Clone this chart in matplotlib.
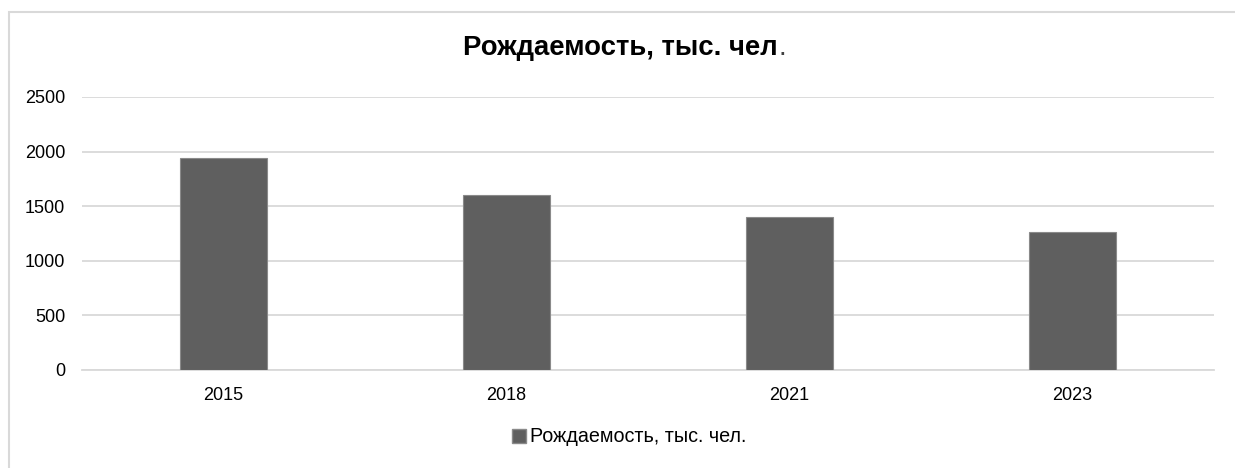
import matplotlib
matplotlib.use("Agg")
import matplotlib.pyplot as plt
from matplotlib.patches import Rectangle, Patch

categories = ["2015", "2018", "2021", "2023"]
births = [1940, 1604, 1398, 1265]
yticks = [0, 500, 1000, 1500, 2000, 2500]
title = "Рождаемость, тыс. чел"
series_name = "Рождаемость, тыс. чел."

plt.rcParams['font.family'] = ['Liberation Sans', 'DejaVu Sans']

W, H = 1235, 468
fig = plt.figure(figsize=(W / 100, H / 100), dpi=100)
fig.patch.set_facecolor("white")

# outer chart border
fig.add_artist(Rectangle((8.5 / W, -0.1), 1.2, (H - 11.5) / H + 0.1,
                         transform=fig.transFigure, fill=False,
                         edgecolor="#d9d9d9", linewidth=1.5))

ax = fig.add_axes([82 / W, (H - 370) / H, (1214 - 82) / W, (370 - 97) / H])
x = range(len(categories))
ax.bar(x, births, width=0.31, color="#5f5f5f", edgecolor="#8a8a8a",
       linewidth=0.8, zorder=3)
ax.set_xlim(-0.5, len(categories) - 0.5)
ax.set_ylim(0, 2500)
ax.set_yticks(yticks)
ax.set_xticks(list(x))
ax.set_xticklabels(categories)
ax.tick_params(axis="both", length=0, labelsize=13, colors="#000000")
ax.tick_params(axis="y", pad=12)
ax.tick_params(axis="x", pad=12)
ax.grid(axis="y", color="#d9d9d9", linewidth=1.3, zorder=0)
for s in ["top", "right", "left"]:
    ax.spines[s].set_visible(False)
ax.spines["bottom"].set_color("#d9d9d9")
ax.spines["bottom"].set_linewidth(1.3)

# title (bold) with non-bold final dot
t = fig.text(463 / W, (H - 48) / H, title, ha="left", va="center",
             fontsize=19.8, fontweight="bold", color="#000000")
fig.canvas.draw()
bb = t.get_window_extent(renderer=fig.canvas.get_renderer())
fig.text((bb.x1 + 1) / W, (H - 48) / H, ".", ha="left", va="center",
         fontsize=19.8, color="#404040")

handle = Patch(facecolor="#5f5f5f", edgecolor="#8a8a8a")
fig.legend(handles=[handle], labels=[series_name], loc="center",
           bbox_to_anchor=(629 / W, (H - 437) / H), frameon=False,
           fontsize=14.2, handlelength=0.7, handleheight=0.7,
           handletextpad=0.2)

fig.savefig("out.png", dpi=100)
